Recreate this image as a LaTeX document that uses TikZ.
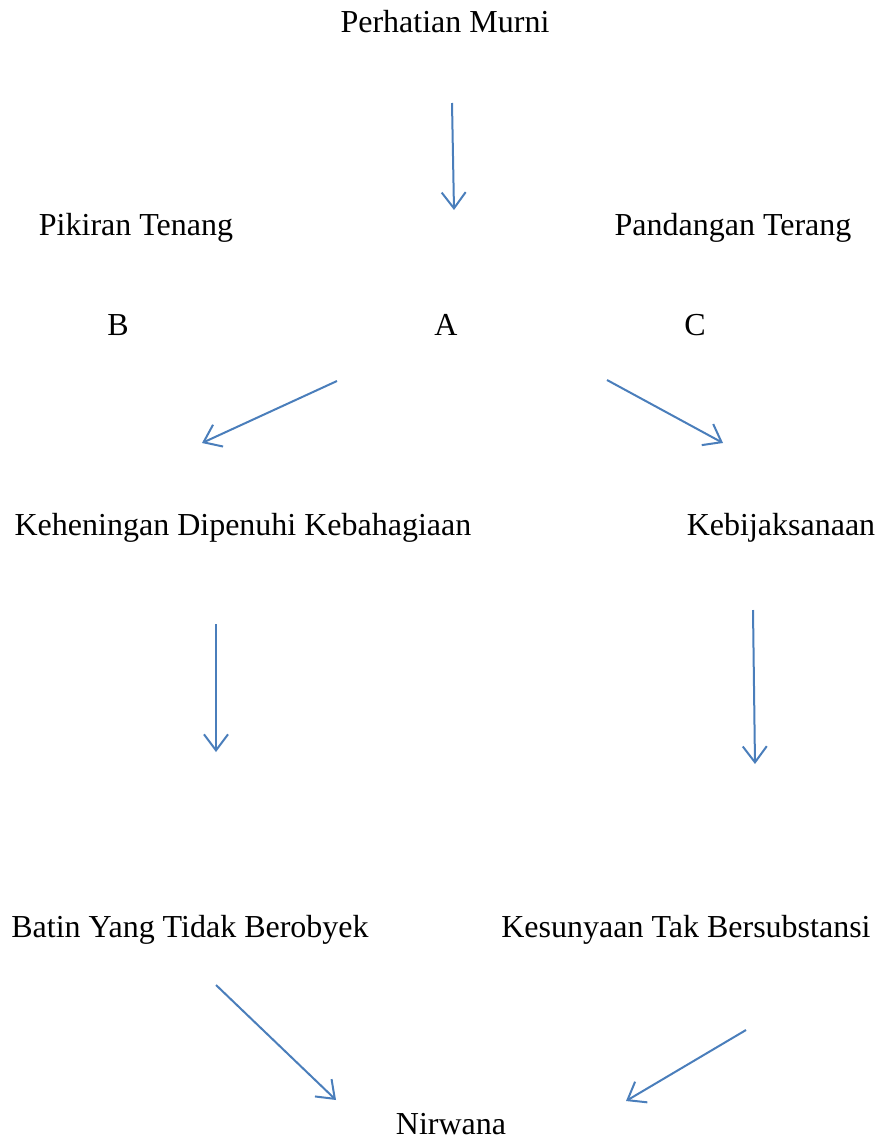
\documentclass[tikz,border=0pt]{standalone}
\usepackage{fontspec}
\setmainfont{Liberation Serif}
\usetikzlibrary{arrows.meta}
\definecolor{wordblue}{RGB}{74,126,187}

\begin{document}
\begin{tikzpicture}[x=1pt,y=-1pt,
  lbl/.style={anchor=base,inner sep=0pt,font=\fontsize{32}{38}\selectfont},
  arr/.style={draw=wordblue,line width=2pt,-{Straight Barb[length=16pt,width=24pt,line width=2pt]}}]
\useasboundingbox (0,0) rectangle (884,1140);
% texts
\node[lbl] (murni) at (445,33) {Perhatian Murni};
\node[lbl] (tenang) at (136,235) {Pikiran Tenang};
\node[lbl] (terang) at (733,235) {Pandangan Terang};
\node[lbl] (B) at (118,335) {B};
\node[lbl] (A) at (446,335) {A};
\node[lbl] (C) at (695,335) {C};
\node[lbl] (hening) at (243,535) {Keheningan Dipenuhi Kebahagiaan};
\node[lbl] (bijak) at (781,535) {Kebijaksanaan};
\node[lbl] (batin) at (190,937) {Batin Yang Tidak Berobyek};
\node[lbl] (sunya) at (686,937) {Kesunyaan Tak Bersubstansi};
\node[lbl] (nirwana) at (451,1134) {Nirwana};
% arrow ends
\coordinate (m1) at (452,103); \coordinate (m2) at (454,210);
\coordinate (b1) at (337,381); \coordinate (b2) at (202,443);
\coordinate (c1) at (607,380); \coordinate (c2) at (723,443);
\coordinate (h1) at (216,624); \coordinate (h2) at (216,752);
\coordinate (k1) at (753,610); \coordinate (k2) at (755,764);
\coordinate (t1) at (216,985); \coordinate (t2) at (336,1100);
\coordinate (s1) at (746,1030); \coordinate (s2) at (626,1101);
% arrows
\draw[arr] (m1) -- (m2);
\draw[arr] (b1) -- (b2);
\draw[arr] (c1) -- (c2);
\draw[arr] (h1) -- (h2);
\draw[arr] (k1) -- (k2);
\draw[arr] (t1) -- (t2);
\draw[arr] (s1) -- (s2);
\end{tikzpicture}
\end{document}
